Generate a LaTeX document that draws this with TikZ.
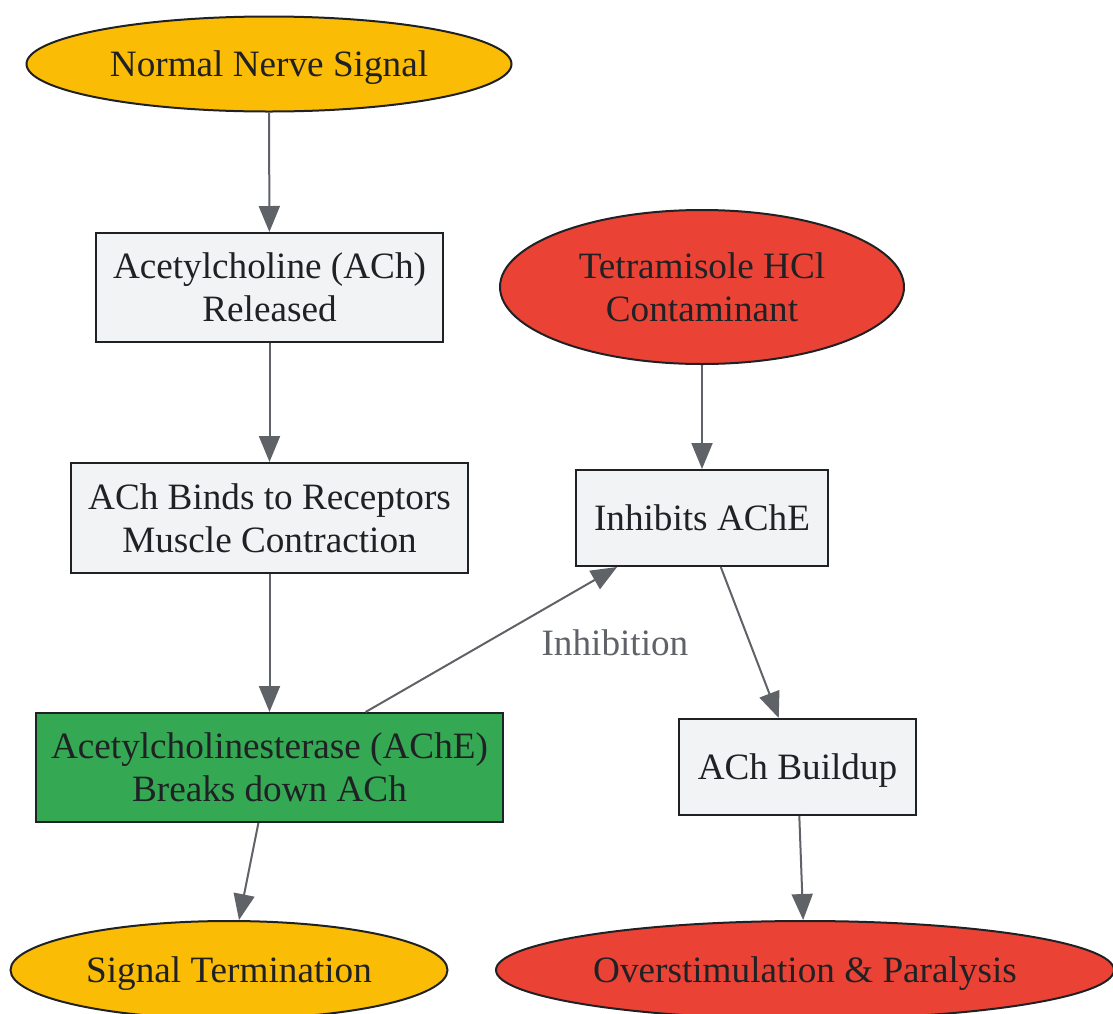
\documentclass[tikz,border=0pt]{standalone}
\usepackage{fontspec}
\setmainfont{Liberation Serif}
\usetikzlibrary{arrows.meta, shapes.geometric}

\definecolor{ink}{HTML}{202124}
\definecolor{linkgrey}{HTML}{5F6368}
\definecolor{boxgrey}{HTML}{F1F3F4}
\definecolor{signalyellow}{HTML}{FBBC05}
\definecolor{alarmred}{HTML}{EA4335}
\definecolor{enzymegreen}{HTML}{34A853}

\begin{document}
\begin{tikzpicture}[x=0.5pt, y=-0.5pt, >={Triangle[length=13pt, width=10.5pt]},
    every node/.style={font=\fontsize{18.6}{21.5}\selectfont, text=ink, align=center, inner sep=0pt, text depth=0pt},
    box/.style={rectangle, draw=ink, line width=1pt, fill=boxgrey},
    oval/.style={ellipse, draw=ink, line width=1pt},
    link/.style={->, draw=linkgrey, line width=1pt}]

% page frame, bottom ellipses run off the edge
\clip (0,0) rectangle (1113,1013);

% left column: the normal signal path
\node[oval, fill=signalyellow, minimum width=242.5pt, minimum height=47.5pt, text height=12.5pt] (nerve) at (269,64) {Normal Nerve Signal};
\node[box, minimum width=173.5pt, minimum height=54.5pt] (released) at (269.5,287.5) {Acetylcholine (ACh)\\Released};
\node[box, minimum width=198.5pt, minimum height=55pt] (binds) at (269.5,518) {ACh Binds to Receptors\\Muscle Contraction};
\node[box, fill=enzymegreen, minimum width=233.5pt, minimum height=54.5pt] (ache) at (269.5,767.5) {Acetylcholinesterase (AChE)\\Breaks down ACh};
\node[oval, fill=signalyellow, minimum width=218.5pt, minimum height=49pt, text height=12.5pt] (termination) at (229,970) {Signal Termination};

% right column: the contaminant path
\node[oval, fill=alarmred, minimum width=202pt, minimum height=77pt] (tetra) at (702,287) {Tetramisole HCl\\Contaminant};
\node[box, minimum width=126pt, minimum height=48pt, text height=12.5pt] (inhibits) at (702,518) {Inhibits AChE};
\node[box, minimum width=118.5pt, minimum height=48pt, text height=12.5pt] (buildup) at (797.5,767) {ACh Buildup};
\node[oval, fill=alarmred, minimum width=309pt, minimum height=49pt, text height=12.5pt] (over) at (805,970) {Overstimulation \& Paralysis};

% arrows
\draw[link] (nerve) -- (released);
\draw[link] (released) -- (binds);
\draw[link] (binds) -- (ache);
\draw[link] (ache) -- (termination);
\draw[link] (tetra) -- (inhibits);
\draw[link] (ache) -- (inhibits) node[midway, anchor=west, xshift=24.6pt, yshift=-1.5pt, text height=12.5pt, text=linkgrey] (inhibition) {Inhibition};
\draw[link] (inhibits) -- (buildup);
\draw[link] (buildup) -- (over);

\end{tikzpicture}
\end{document}
